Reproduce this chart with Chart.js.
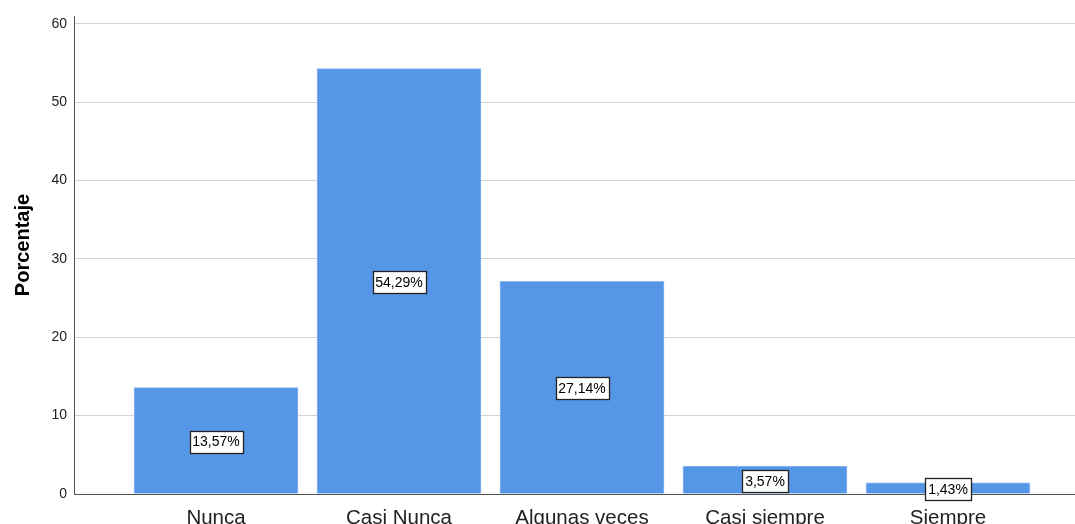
<!DOCTYPE html>
<html>
<head>
<meta charset="utf-8">
<script src="https://cdn.jsdelivr.net/npm/chart.js@4/dist/chart.umd.min.js"></script>
<style>
  html, body { margin: 0; padding: 0; background: #fff; }
  #wrap { width: 1075px; height: 524px; position: relative; }
</style>
</head>
<body>
<div id="wrap"><canvas id="c" width="1075" height="524"></canvas></div>
<script>
const categories = ["Nunca", "Casi Nunca", "Algunas veces", "Casi siempre", "Siempre"];
const percentages = [13.57, 54.29, 27.14, 3.57, 1.43];
const yTicks = [0, 10, 20, 30, 40, 50, 60];
const yTitle = 'Porcentaje';

const points = percentages.map((v, i) => ({ x: i + 1, y: v }));
const FONT = "'Liberation Sans', Arial, sans-serif";

const boxLabels = {
  id: 'boxLabels',
  afterDatasetsDraw(chart) {
    const ctx = chart.ctx;
    const meta = chart.getDatasetMeta(0);
    ctx.save();
    ctx.font = "14px " + FONT;
    ctx.textAlign = 'center';
    ctx.textBaseline = 'middle';
    meta.data.forEach((bar, i) => {
      const txt = percentages[i].toFixed(2).replace('.', ',') + '%';
      const cx = bar.x;
      const cy = (bar.y + bar.base) / 2 + 1;
      const w = Math.round(ctx.measureText(txt).width + 6);
      const h = 22;
      const x0 = Math.round(cx - w / 2) + 0.5;
      const y0 = Math.round(cy - h / 2) + 0.5;
      ctx.fillStyle = '#ffffff';
      ctx.fillRect(x0, y0, w, h);
      ctx.strokeStyle = '#222';
      ctx.lineWidth = 1.3;
      ctx.strokeRect(x0, y0, w, h);
      ctx.fillStyle = '#000';
      ctx.fillText(txt, cx, cy + 1);
    });
    ctx.restore();
  },
  afterDraw(chart) {
    const ctx = chart.ctx;
    ctx.save();
    ctx.translate(23, 245);
    ctx.rotate(-Math.PI / 2);
    ctx.font = "bold 20px " + FONT;
    ctx.fillStyle = '#000';
    ctx.textAlign = 'center';
    ctx.textBaseline = 'middle';
    ctx.fillText(yTitle, 0, 0);
    ctx.restore();
  }
};

new Chart(document.getElementById('c'), {
  type: 'bar',
  data: {
    datasets: [{
      data: points,
      backgroundColor: '#5596e6',
      borderColor: '#8cb8ef',
      borderWidth: 1,
      barThickness: 164
    }]
  },
  options: {
    responsive: false,
    animation: false,
    layout: { padding: { top: 16, right: 0, left: 0, bottom: 0 } },
    plugins: { legend: { display: false }, tooltip: { enabled: false } },
    scales: {
      x: {
        type: 'linear',
        offset: false,
        min: 0.224,
        max: 5.694,
        afterBuildTicks(scale) {
          scale.ticks = categories.map((c, i) => ({ value: i + 1 }));
        },
        afterFit(scale) { scale.height = 30; },
        grid: { display: false, drawTicks: false, offset: false },
        border: { display: true, color: '#555', width: 1 },
        ticks: {
          autoSkip: false,
          maxRotation: 0,
          padding: 12,
          color: '#222',
          font: { family: FONT, size: 20.5 },
          callback: (v) => categories[Math.round(v) - 1]
        }
      },
      y: {
        min: 0,
        max: 61,
        afterBuildTicks(scale) {
          scale.ticks = yTicks.map(v => ({ value: v }));
        },
        afterFit(scale) { scale.width = 74; },
        grid: { color: '#d3d3d3', drawTicks: false, lineWidth: 1 },
        border: { display: true, color: '#555', width: 1 },
        ticks: {
          padding: 7,
          color: '#222',
          font: { family: FONT, size: 14 }
        },
        title: { display: false }
      }
    }
  },
  plugins: [boxLabels]
});
</script>
</body>
</html>
